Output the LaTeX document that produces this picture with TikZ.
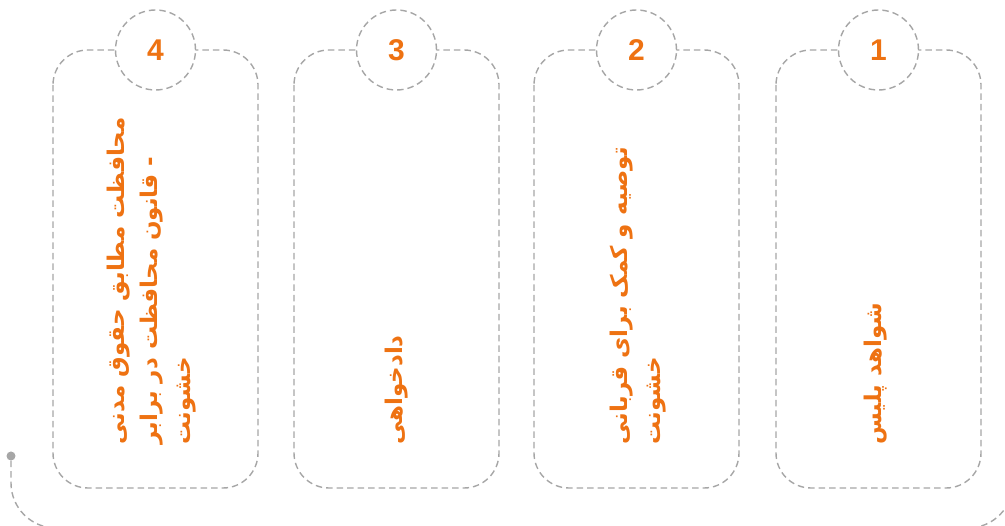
\documentclass[tikz,border=0pt]{standalone}
\usepackage{fontspec}
\setmainfont{Liberation Sans}
\newfontfamily\fa[Script=Arabic]{DejaVu Sans}
\TeXXeTstate=1
\definecolor{org}{HTML}{EE7212}
\definecolor{gr}{HTML}{A6A6A6}
\begin{document}
\begin{tikzpicture}[x=1pt,y=-1pt,
  dsh/.style={draw=gr, line width=1.4pt, dash pattern=on 6.5pt off 4pt},
  card/.style={dsh, rounded corners=35pt},
  num/.style={circle, dsh, fill=white, minimum size=80pt, inner sep=0pt,
    text=org, font=\bfseries\fontsize{30}{30}\selectfont},
  lbl/.style={rotate=90, anchor=west, align=left, inner sep=0pt, text=org,
    font=\fa\bfseries\fontsize{23}{33}\selectfont},
  dotn/.style={circle, fill=gr, minimum size=9pt, inner sep=0pt}]
\useasboundingbox (0,0) rectangle (1005,526);
% cards
\foreach \i/\xl in {4/53, 3/294, 2/534, 1/776}{
  \draw[card] (\xl,50) rectangle ++(205,438);
  \node[num] (c\i) at (\xl+102.5,50) {\i};
}
% labels
\node[lbl] (t4) at (152,445) {\beginR محافظت مطابق حقوق مدنی\endR\\\beginR - قانون محافظت در برابر\endR\\\beginR خشونت\endR};
\node[lbl] (t3) at (396.5,445) {\beginR دادخواهی\endR};
\node[lbl] (t2) at (638,445) {\beginR توصیه و کمک برای قربانی\endR\\\beginR خشونت\endR};
\node[lbl] (t1) at (876,445) {\beginR شواهد پلیس\endR};
% connector
\node[dotn] (d) at (11,456) {};
\coordinate (e) at (1013,380);
\draw[dsh, rounded corners=45pt] (d.south) -- (11,528) -- (1013,528) -- (e);
\end{tikzpicture}
\end{document}
